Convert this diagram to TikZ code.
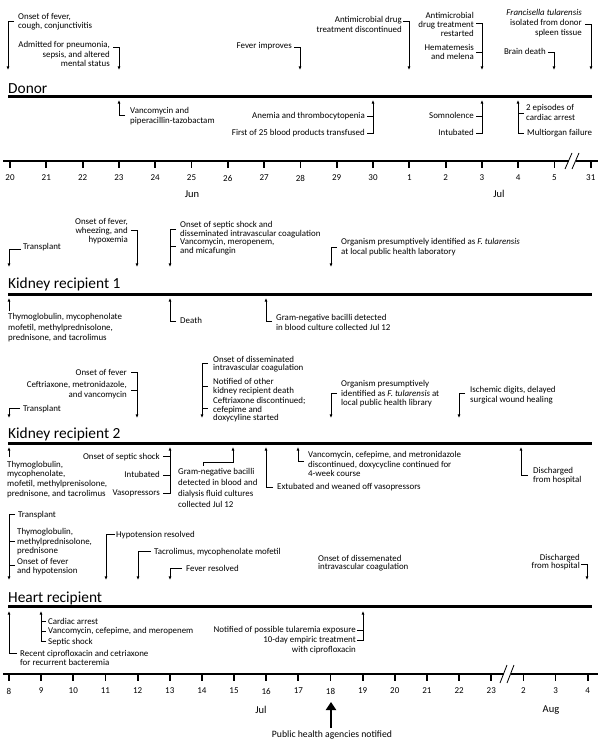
\documentclass[tikz,border=0pt]{standalone}
\usepackage{fontspec}
\setmainfont{Carlito}
\usetikzlibrary{arrows.meta}
\newcommand\evf[1]{\fontsize{8.9}{#1}\selectfont}
\tikzset{
  ev/.style={font={\evf{9.8}}, inner sep=0pt, align=left, anchor=north west},
  evr/.style={font={\evf{9.8}}, inner sep=0pt, align=right, anchor=north east},
  conn/.style={line width=0.8pt},
  arr/.style={conn, -{Latex[length=3.6pt,width=3pt]}},
  band/.style={line width=3pt},
  axisline/.style={line width=1.8pt},
  ttl/.style={font=\fontsize{15.4}{17}\selectfont, inner sep=0pt, anchor=base west},
  lab/.style={font=\fontsize{9}{10}\selectfont, inner sep=0pt},
  month/.style={font=\fontsize{10.5}{12}\selectfont, inner sep=0pt},
}
\begin{document}
\begin{tikzpicture}[x=1pt,y=-1pt]
\useasboundingbox (0,0) rectangle (600,744);
\fill[white] (0,0) rectangle (600,744);

% ================= DONOR =================
\node[ttl] (donor) at (8,93) {Donor};
\draw[band] (8,96.5) -- (592,96.5);
% above
\node[ev, font={\evf{9}}] (d1) at (18,13.5) {Onset of fever,\\cough, conjunctivitis};
\draw[arr] (14,21) -- (8,21) -- (8,70);
\node[evr, font={\evf{9.2}}] (d2) at (110,41.5) {Admitted for pneumonia,\\sepsis, and altered\\mental status};
\draw[arr] (113,47) -- (119,47) -- (119,70);
\node[evr] (d3) at (292,42.5) {Fever improves};
\draw[arr] (294,47) -- (300,47) -- (300,70);
\node[evr, font={\evf{10.5}}] (d4) at (402,16) {Antimicrobial drug\\treatment discontinued};
\draw[arr] (403,21) -- (409,21) -- (409,70);
\node[evr, font={\evf{8.6}}] (d5a) at (474,12.5) {Antimicrobial\\drug treatment\\restarted};
\node[evr, font={\evf{9}}] (d5b) at (474,44) {Hematemesis\\and melena};
\draw[arr] (476,23) -- (482,23) -- (482,70);
\draw[conn] (476,52) -- (482,52);
\node[evr] (d6) at (546,48) {Brain death};
\draw[arr] (548,52) -- (554,52) -- (554,70);
\node[evr, font={\evf{10.3}}] (d7) at (582,9) {\textit{Francisella tularensis}\\isolated from donor\\spleen tissue};
\draw[arr] (585,24) -- (591,24) -- (591,70);
% below
\node[ev, font={\evf{10}}] (b1) at (130,107.5) {Vancomycin and\\piperacillin-tazobactam};
\draw[arr] (125,115) -- (119,115) -- (119,100);
\node[evr] (b2) at (365,112.5) {Anemia and thrombocytopenia};
\node[evr] (b3) at (365,129.5) {First of 25 blood products transfused};
\draw[arr] (367,133) -- (373,133) -- (373,100);
\draw[conn] (367,116) -- (373,116);
\node[evr] (b4) at (474,112.5) {Somnolence};
\node[evr] (b5) at (474,129.5) {Intubated};
\draw[arr] (476,133) -- (482,133) -- (482,100);
\draw[conn] (476,116) -- (482,116);
\node[ev, font={\evf{9.2}}] (b6) at (526,104.5) {2 episodes of\\cardiac arrest};
\node[ev] (b7) at (527,129.5) {Multiorgan failure};
\draw[arr] (524,133) -- (518,133) -- (518,100);
\draw[conn] (518,113) -- (524,113);

% top axis
\draw[axisline] (3,161) -- (568.5,161);
\draw[axisline] (575.5,161) -- (598,161);
\draw[conn] (565,169) -- (572,153);
\draw[conn] (572,169) -- (579,153);
\foreach \l [count=\i from 0] in {20,21,22,23,24,25,26,27,28,29,30,1,2,3,4,5,31} {
  \draw[axisline] ({10+36.3*\i},161) -- ({10+36.3*\i},168);
  \node[lab] (ta\i) at ({10+36.3*\i},178) {\l};
}
\node[month] (jun) at (192,194) {Jun};
\node[month] (jul1) at (499,194) {Jul};

% ================= KIDNEY RECIPIENT 1 =================
\node[ttl] (kr1) at (8,288) {Kidney recipient 1};
\draw[band] (8,294.3) -- (592,294.3);
\node[ev] (k1) at (23,243.5) {Transplant};
\draw[arr] (21,249.5) -- (9,249.5) -- (9,267);
\node[evr, font={\evf{9.2}}] (k2) at (128,218) {Onset of fever,\\wheezing, and\\hypoxemia};
\draw[arr] (131,230) -- (137,230) -- (137,267);
\node[ev, font={\evf{8.7}}] (k3a) at (180,221.5) {Onset of septic shock and\\disseminated intravascular coagulation};
\node[ev, font={\evf{9}}] (k3b) at (180,238.5) {Vancomycin, meropenem,\\and micafungin};
\draw[arr] (176,229) -- (170,229) -- (170,267);
\draw[conn] (170,246) -- (176,246);
\node[ev, font={\evf{10}}] (k4) at (341,238) {Organism presumptively identified as \textit{F. tularensis}\\at local public health laboratory};
\draw[arr] (337,247) -- (331,247) -- (331,267);
% below
\node[ev, font={\evf{10.8}}] (k5) at (8,313) {Thymoglobulin, mycophenolate\\mofetil, methylprednisolone,\\prednisone, and tacrolimus};
\draw[arr] (9,311) -- (9,298);
\node[ev] (k6) at (180,317.5) {Death};
\draw[arr] (176,321) -- (170,321) -- (170,298);
\node[ev, font={\evf{9.8}}] (k7) at (276,314.5) {Gram-negative bacilli detected\\in blood culture collected Jul 12};
\draw[arr] (272,321) -- (266,321) -- (266,298);

% ================= KIDNEY RECIPIENT 2 =================
\node[ttl] (kr2) at (8,438) {Kidney recipient 2};
\draw[band] (8,443.3) -- (592,443.3);
\node[ev] (r1) at (23,404.8) {Transplant};
\draw[arr] (20,408.3) -- (9,408.3) -- (9,418);
\node[evr] (r2a) at (127,369) {Onset of fever};
\node[evr, font={\evf{10}}] (r2b) at (127,381.5) {Ceftriaxone, metronidazole,\\and vancomycin};
\draw[arr] (131,372.5) -- (137,372.5) -- (137,418);
\draw[conn] (131,390) -- (137,390);
\node[ev, font={\evf{8.3}}] (r3a) at (213,355.8) {Onset of disseminated\\intravascular coagulation};
\node[ev, font={\evf{9}}] (r3b) at (213,378.2) {Notified of other\\kidney recipient death};
\node[ev, font={\evf{8.5}}] (r3c) at (213,397.5) {Ceftriaxone discontinued;\\cefepime and\\doxycyline started};
\draw[arr] (208,363.3) -- (202,363.3) -- (202,418);
\draw[conn] (202,386) -- (208,386);
\draw[conn] (202,408.3) -- (208,408.3);
\node[ev, font={\evf{9.7}}] (r4) at (341,380) {Organism presumptively\\identified as \textit{F. tularensis} at\\local public health library};
\draw[arr] (337,393) -- (331,393) -- (331,418);
\node[ev, font={\evf{9.2}}] (r5) at (470,386.5) {Ischemic digits, delayed\\surgical wound healing};
\draw[arr] (465,393) -- (459,393) -- (459,418);
% below
\node[ev, font={\evf{9.7}}] (r6) at (7,460.8) {Thymoglobulin,\\mycophenolate,\\mofetil, methylprenisolone,\\prednisone, and tacrolimus};
\draw[arr] (9,457) -- (9,447);
\node[evr] (r7a) at (160,453.2) {Onset of septic shock};
\node[evr] (r7b) at (160,471.5) {Intubated};
\node[evr] (r7c) at (160,489.8) {Vasopressors};
\draw[arr] (163,493.3) -- (170,493.3) -- (170,447);
\draw[conn] (163,456.7) -- (170,456.7);
\draw[conn] (163,475) -- (170,475);
\node[ev, font={\evf{11}}] (r8) at (178,468.2) {Gram-negative bacilli\\detected in blood and\\dialysis fluid cultures\\collected Jul 12};
\draw[arr] (203,465.5) -- (203,462) -- (233,462) -- (233,447);
\node[ev] (r9) at (277,483.5) {Extubated and weaned off vasopressors};
\draw[arr] (273,487) -- (266,487) -- (266,447);
\node[ev, font={\evf{9.3}}] (r10) at (308,451.5) {Vancomycin, cefepime, and metronidazole\\discontinued, doxycycline continued for\\4-week course};
\draw[arr] (304,461) -- (298,461) -- (298,447);
\node[ev, font={\evf{9}}] (r11) at (533,467.5) {Discharged\\from hospital};
\draw[arr] (528,475) -- (521,475) -- (521,447);

% ================= HEART RECIPIENT =================
\node[ttl] (hr) at (8,602) {Heart recipient};
\draw[band] (8,606.7) -- (592,606.7);
\node[ev] (h1a) at (18,510.8) {Transplant};
\node[ev, font={\evf{9.7}}] (h1b) at (17,528.2) {Thymoglobulin,\\methylprednisolone,\\prednisone};
\node[ev, font={\evf{9.3}}] (h1c) at (17,558.2) {Onset of fever\\and hypotension};
\draw[arr] (15,514.3) -- (9,514.3) -- (9,580);
\draw[conn] (9,541.7) -- (15,541.7);
\draw[conn] (9,565) -- (15,565);
\node[ev] (h2) at (116,530.8) {Hypotension resolved};
\draw[arr] (115,534.3) -- (106,534.3) -- (106,580);
\node[ev] (h3) at (154,548.2) {Tacrolimus, mycophenolate mofetil};
\draw[arr] (151,551.7) -- (138,551.7) -- (138,580);
\node[ev] (h4) at (186,564.8) {Fever resolved};
\draw[arr] (182,568.3) -- (170,568.3) -- (170,580);
\node[ev, font={\evf{8.5}}] (h5) at (318,554.8) {Onset of dissemenated\\intravascular coagulation};
\node[evr, font={\evf{8.5}}] (h6) at (580,553.8) {Discharged\\from hospital};
\draw[arr] (581,564) -- (587,564) -- (587,580);
% below
\node[ev, font={\evf{9}}] (h7) at (20,649.8) {Recent ciprofloxacin and cetriaxone\\for recurrent bacteremia};
\draw[arr] (17,653.3) -- (9,653.3) -- (9,611);
\node[ev] (h8a) at (48,618.2) {Cardiac arrest};
\node[ev] (h8b) at (48,627.5) {Vancomycin, cefepime, and meropenem};
\node[ev] (h8c) at (48,638.2) {Septic shock};
\draw[arr] (46,641.7) -- (41,641.7) -- (41,611);
\draw[conn] (41,621.7) -- (46,621.7);
\draw[conn] (41,631) -- (46,631);
\node[evr] (h9a) at (356,626.5) {Notified of possible tularemia exposure};
\node[evr, font={\evf{10}}] (h9b) at (356,636.5) {10-day empiric treatment\\with ciprofloxacin};
\draw[arr] (357,640) -- (363,640) -- (363,611);
\draw[conn] (357,630) -- (363,630);

% bottom axis
\draw[axisline] (3,674) -- (503.5,674);
\draw[axisline] (510.5,674) -- (598,674);
\draw[conn] (500,683) -- (507,665);
\draw[conn] (507,683) -- (514,665);
\foreach \l [count=\i from 0] in {8,9,10,11,12,13,14,15,16,17,18,19,20,21,22,23,2,3,4} {
  \draw[axisline] ({9+32.15*\i},674) -- ({9+32.15*\i},681);
  \node[lab] (ba\i) at ({9+32.15*\i},691) {\l};
}
\node[month] (jul2) at (261,710) {Jul};
\node[month] (aug) at (551,710) {Aug};

% public health arrow
\node[font=\fontsize{9.7}{11}\selectfont, inner sep=0pt] (pub) at (332,735) {Public health agencies notified};
\coordinate (pubtip) at (331,702);
\draw[line width=2.8pt, -{Triangle[length=8pt,width=10pt]}] (pub.north -| pubtip) ++(0,-3) -- (pubtip);
\end{tikzpicture}
\end{document}
